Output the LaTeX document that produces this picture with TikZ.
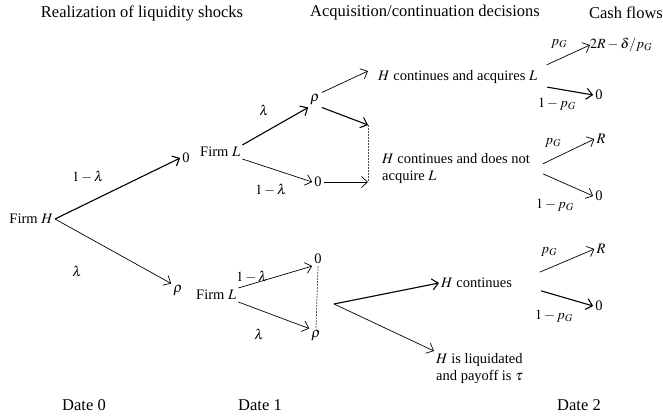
\documentclass[tikz,border=0pt]{standalone}
\usepackage{mathptmx}
\usepackage{fontspec}
\setmainfont{Liberation Serif}
\usetikzlibrary{arrows.meta}

\tikzset{
  txt/.style={font=\fontsize{14.5}{17}\selectfont, inner sep=2pt},
  hdr/.style={font=\fontsize{16.5}{20}\selectfont, inner sep=0pt},
  lbl/.style={font=\fontsize{14}{16}\selectfont, inner sep=0pt},
  arr/.style={-{Straight Barb[length=6pt,width=11pt]}, line width=0.7pt},
  arrb/.style={arr, line width=1.1pt},
  joint/.style={dash pattern=on 2pt off 1pt, line width=0.7pt, black!70},
}

\begin{document}
\begin{tikzpicture}[x=1pt,y=-1pt]
    \useasboundingbox (0,0) rectangle (663,417);
    % headers and dates
    \node[hdr] (hShock) at (142,13) {Realization of liquidity shocks};
    \node[hdr] (hDecide) at (425,13) {Acquisition/continuation decisions};
    \node[hdr] (hCash) at (626,13) {Cash flows};
    \node[hdr] (date0) at (84,405) {Date 0};
    \node[hdr] (date1) at (260,405) {Date 1};
    \node[hdr] (date2) at (579,405) {Date 2};

    % date 0 shocks
    \node[txt, anchor=east] (firmH) at (55,219) {Firm $H$};
    \node[txt] (zeroA) at (186,158) {0};
    \node[txt] (rhoA) at (178,291) {$\rho$};
    \draw[arrb] (firmH.east) -- (zeroA.west);
    \draw[arr] (firmH.east) -- (rhoA.north west);
    \node[lbl] (pA) at (88,177) {$1-\lambda$};
    \node[lbl] (qA) at (77,271) {$\lambda$};

    % upper firm L
    \node[txt, anchor=west] (firmLa) at (198,152) {Firm $L$};
    \node[txt] (rhoB) at (315,100) {$\rho$};
    \node[txt] (zeroB) at (318,182) {0};
    \draw[arrb] (firmLa.north east) -- (rhoB.south west);
    \draw[arr] (firmLa.south east) -- (zeroB.west);
    \node[lbl] (pB) at (264,110) {$\lambda$};
    \node[lbl] (qB) at (271,190) {$1-\lambda$};

    \node[txt, anchor=west] (dec1) at (376,77) {$H$ continues and acquires $L$};
    \node[txt, anchor=west, align=left] (dec2) at (380,169) {$H$ continues and does not\\acquire $L$};
    \coordinate (joinTop) at (368,125);
    \coordinate (joinBot) at (368,182);
    \draw[arr] (rhoB.north east) -- ([shift={(-8pt,6pt)}]dec1.west);
    \draw[arrb] (rhoB.south east) -- (joinTop);
    \draw[arr] (zeroB.east) -- (joinBot);
    \draw[joint] (joinTop) -- (joinBot);

    % lower firm L
    \node[txt, anchor=west] (firmLb) at (194,295) {Firm $L$};
    \node[txt] (zeroC) at (318,259) {0};
    \node[txt] (rhoC) at (316,336) {$\rho$};
    \draw[arr] (firmLb.north east) -- (zeroC.south west);
    \draw[arr] (firmLb.south east) -- (rhoC.north west);
    \draw[joint] (zeroC.south) -- (rhoC.north);
    \node[lbl] (pC) at (252,277) {$1-\lambda$};
    \node[lbl] (qC) at (259,334) {$\lambda$};

    \coordinate (splitC) at (334,304);
    \node[txt, anchor=west] (dec3) at (439,283) {$H$ continues};
    \node[txt, anchor=north west, align=left] (dec4) at (434,351) {$H$ is liquidated\\and payoff is $\tau$};
    \draw[arrb] (splitC) -- (dec3.west);
    \draw[arr] (splitC) -- (dec4.north west);

    % cash flows at date 2
    \node[lbl, anchor=west] (cashA) at (590,45) {$2R-\delta/p_G$};
    \node[txt] (zeroD) at (599,95) {0};
    \draw[arr, shorten <=8pt] (dec1.north east) -- (cashA.west);
    \draw[arrb, shorten <=8pt] (dec1.south east) -- (zeroD.west);
    \node[lbl] (pD) at (559,44) {$p_G$};
    \node[lbl] (qD) at (557,104) {$1-p_G$};

    \node[txt] (cashB) at (601,139) {$R$};
    \node[txt] (zeroE) at (599,196) {0};
    \draw[arr, shorten <=12pt] (dec2.east) -- (cashB.west);
    \draw[arr, shorten <=12pt] (dec2.east) -- (zeroE.west);
    \node[lbl] (pE) at (553,143) {$p_G$};
    \node[lbl] (qE) at (555,205) {$1-p_G$};

    \node[txt] (cashC) at (601,249) {$R$};
    \node[txt] (zeroF) at (599,306) {0};
    \draw[arr, shorten <=28pt] (dec3.east) -- (cashC.west);
    \draw[arrb, shorten <=28pt] (dec3.east) -- (zeroF.west);
    \node[lbl] (pF) at (549,252) {$p_G$};
    \node[lbl] (qF) at (554,316) {$1-p_G$};
\end{tikzpicture}
\end{document}
